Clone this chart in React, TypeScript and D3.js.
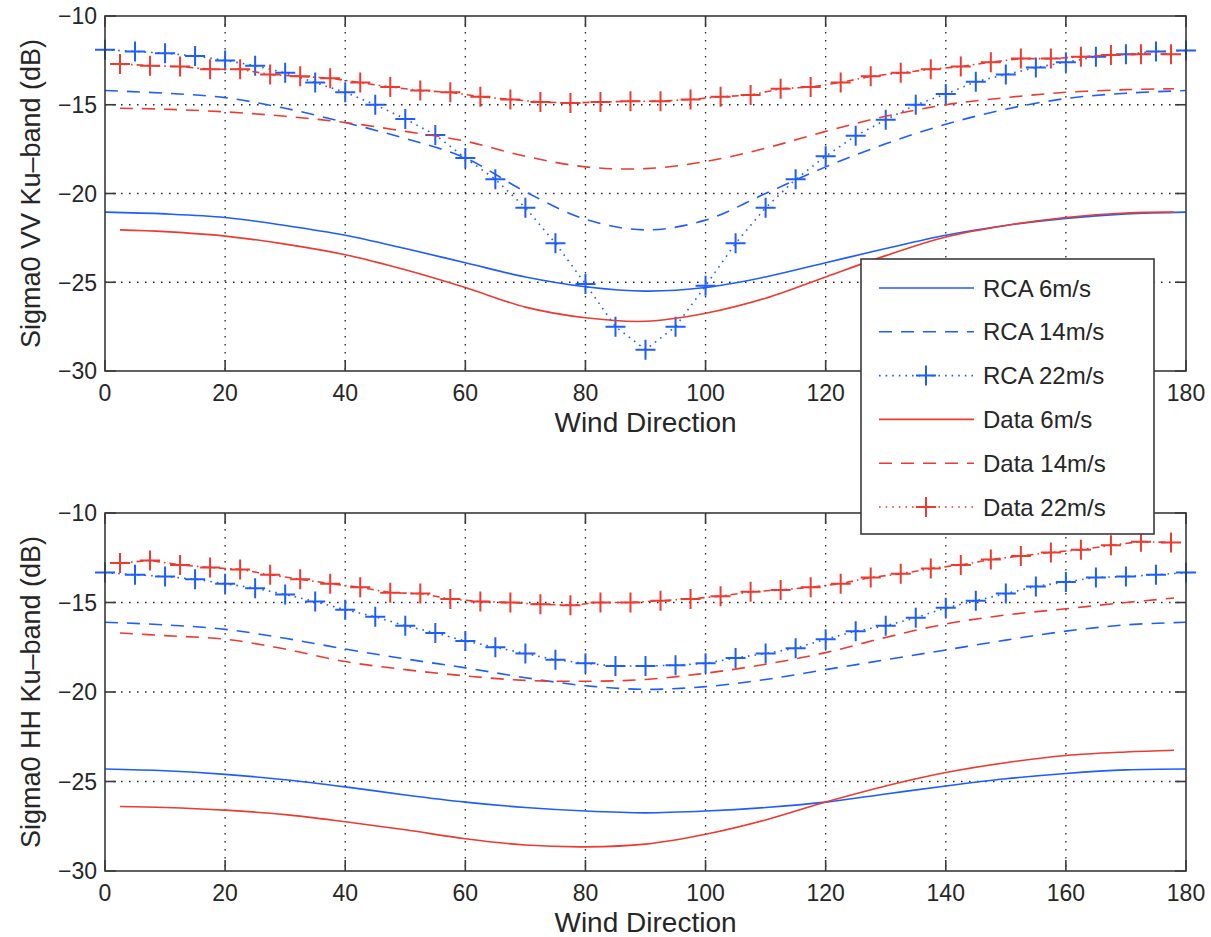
import React from "react";
import * as d3 from "d3";

// x positions (wind direction, deg)
const dirSmooth = [0, 10, 20, 30, 40, 50, 60, 70, 80, 90, 100, 110, 120, 130, 140, 150, 160, 170, 180];
const dirData = [2.5, 10, 20, 30, 40, 50, 60, 70, 80, 90, 100, 110, 120, 130, 140, 150, 160, 170, 178];
const dirRca22 = [0, 5, 10, 15, 20, 25, 30, 35, 40, 45, 50, 55, 60, 65, 70, 75, 80, 85, 90, 95, 100, 105, 110, 115, 120, 125, 130, 135, 140, 145, 150, 155, 160, 165, 170, 175, 180];
const dirData22 = [2.5, 7.5, 12.5, 17.5, 22.5, 27.5, 32.5, 37.5, 42.5, 47.5, 52.5, 57.5, 62.5, 67.5, 72.5, 77.5, 82.5, 87.5, 92.5, 97.5, 102.5, 107.5, 112.5, 117.5, 122.5, 127.5, 132.5, 137.5, 142.5, 147.5, 152.5, 157.5, 162.5, 167.5, 172.5, 177.5];

// VV panel
const vvRca6 = [-21.05, -21.15, -21.35, -21.8, -22.35, -23.1, -23.9, -24.7, -25.25, -25.5, -25.3, -24.7, -23.9, -23.1, -22.35, -21.8, -21.4, -21.15, -21.05];
const vvData6 = [-22.05, -22.15, -22.4, -22.85, -23.45, -24.3, -25.3, -26.4, -27.0, -27.2, -26.75, -25.9, -24.7, -23.5, -22.45, -21.8, -21.35, -21.1, -21.05];
const vvRca14 = [-14.2, -14.35, -14.6, -15.2, -16.0, -16.9, -18.0, -19.9, -21.45, -22.05, -21.5, -20.0, -18.5, -17.2, -16.1, -15.25, -14.65, -14.35, -14.2];
const vvData14 = [-15.2, -15.25, -15.4, -15.65, -16.0, -16.5, -17.05, -17.9, -18.5, -18.6, -18.2, -17.45, -16.5, -15.65, -15.0, -14.6, -14.3, -14.15, -14.1];
const vvRca22 = [-11.9, -12.0, -12.1, -12.25, -12.5, -12.8, -13.2, -13.75, -14.3, -15.0, -15.8, -16.7, -18.0, -19.2, -20.8, -22.8, -25.1, -27.5, -28.8, -27.5, -25.2, -22.8, -20.8, -19.2, -17.9, -16.75, -15.85, -15.0, -14.4, -13.7, -13.3, -12.9, -12.6, -12.3, -12.15, -12.0, -11.95];
const vvData22 = [-12.7, -12.8, -12.85, -13.0, -13.0, -13.3, -13.4, -13.5, -13.75, -14.0, -14.2, -14.3, -14.55, -14.7, -14.85, -14.9, -14.85, -14.8, -14.8, -14.7, -14.55, -14.45, -14.1, -14.0, -13.75, -13.4, -13.2, -13.0, -12.85, -12.6, -12.4, -12.4, -12.3, -12.2, -12.15, -12.15];

// HH panel
const hhRca6 = [-24.3, -24.4, -24.6, -24.9, -25.3, -25.75, -26.15, -26.45, -26.65, -26.75, -26.65, -26.45, -26.15, -25.7, -25.25, -24.85, -24.55, -24.35, -24.3];
const hhData6 = [-26.4, -26.45, -26.6, -26.85, -27.25, -27.7, -28.2, -28.55, -28.65, -28.5, -27.95, -27.15, -26.15, -25.25, -24.5, -23.95, -23.55, -23.35, -23.25];
const hhRca14 = [-16.1, -16.25, -16.5, -17.0, -17.6, -18.15, -18.65, -19.2, -19.65, -19.85, -19.7, -19.3, -18.75, -18.2, -17.65, -17.1, -16.6, -16.25, -16.1];
const hhData14 = [-16.7, -16.85, -17.05, -17.6, -18.3, -18.75, -19.1, -19.35, -19.4, -19.3, -18.95, -18.45, -17.8, -16.95, -16.2, -15.7, -15.35, -15.0, -14.75];
const hhRca22 = [-13.33, -13.45, -13.55, -13.7, -13.95, -14.2, -14.55, -14.95, -15.4, -15.8, -16.3, -16.7, -17.15, -17.5, -17.85, -18.2, -18.4, -18.55, -18.55, -18.5, -18.4, -18.1, -17.85, -17.55, -17.05, -16.6, -16.3, -15.85, -15.3, -14.9, -14.5, -14.1, -13.85, -13.6, -13.55, -13.45, -13.33];
const hhData22 = [-12.8, -12.65, -12.9, -13.05, -13.15, -13.45, -13.7, -13.95, -14.15, -14.45, -14.5, -14.8, -14.95, -15.0, -15.1, -15.15, -15.0, -15.0, -14.9, -14.8, -14.65, -14.4, -14.3, -14.15, -13.95, -13.6, -13.4, -13.1, -12.9, -12.6, -12.4, -12.2, -12.05, -11.8, -11.6, -11.65];

const xTicks = [0, 20, 40, 60, 80, 100, 120, 140, 160, 180];
const yTicks = [-30, -25, -20, -15, -10];
const legendLabels = ["RCA 6m/s", "RCA 14m/s", "RCA 22m/s", "Data 6m/s", "Data 14m/s", "Data 22m/s"];

const BLUE = "#1d5cff";
const RED = "#ec3a30";
const AXIS = "#3a3a3a";
const TEXT = "#262626";
const FONT = "'Liberation Sans', Arial, Helvetica, sans-serif";

const DASH = "13,9";
const DOT = "1.6,5";
const DASHDOT = "7,4,1.6,4";

type Style = { color: string; dash: string | null; marker: boolean; curve: boolean };
const styles: Style[] = [
  { color: BLUE, dash: null, marker: false, curve: true },
  { color: BLUE, dash: DASH, marker: false, curve: true },
  { color: BLUE, dash: DOT, marker: true, curve: false },
  { color: RED, dash: null, marker: false, curve: true },
  { color: RED, dash: DASH, marker: false, curve: true },
  { color: RED, dash: DASHDOT, marker: true, curve: false },
];

const PLUS = "M-10,0H10M0,-10V10";

const left = 105;
const right = 1186;
const fmt = d3.format("d");

// legend box (drawn over the top panel, as in the original figure)
const LG = { x: 861, y: 259, w: 293, h: 275 };

function Panel({
  top,
  bottom,
  yLabel,
  series,
  underLegend,
}: {
  top: number;
  bottom: number;
  yLabel: string;
  series: [number[], number[]][];
  underLegend?: boolean;
}) {
  const x = d3.scaleLinear().domain([0, 180]).range([left, right]);
  const y = d3.scaleLinear().domain([-30, -10]).range([bottom, top]);
  const tl = 11;
  // tick labels that the legend box covers are not drawn
  const hidden = (t: number) => underLegend && x(t) > LG.x + 10 && x(t) < LG.x + LG.w - 10;
  return (
    <g>
      {xTicks.slice(1, -1).map((t) => (
        <line key={"gx" + t} x1={x(t)} x2={x(t)} y1={top} y2={bottom} stroke="#222" strokeWidth={1.3} strokeDasharray="1.5,6.5" />
      ))}
      {yTicks.slice(1, -1).map((t) => (
        <line key={"gy" + t} x1={left} x2={right} y1={y(t)} y2={y(t)} stroke="#222" strokeWidth={1.3} strokeDasharray="1.5,6.5" />
      ))}
      {series.map(([xs, ys], i) => {
        const s = styles[i];
        const pts = xs.map((d, k) => [d, ys[k]] as [number, number]);
        const gen = d3
          .line<[number, number]>()
          .x((d) => x(d[0]))
          .y((d) => y(d[1]))
          .curve(s.curve ? d3.curveCatmullRom : d3.curveLinear);
        return (
          <g key={"s" + i}>
            <path d={gen(pts) || ""} fill="none" stroke={s.color} strokeWidth={1.6} strokeDasharray={s.dash || undefined} />
            {s.marker &&
              pts.map((p, k) => (
                <path key={k} d={PLUS} transform={`translate(${x(p[0])},${y(p[1])})`} stroke={s.color} strokeWidth={2} fill="none" />
              ))}
          </g>
        );
      })}
      <rect x={left} y={top} width={right - left} height={bottom - top} fill="none" stroke={AXIS} strokeWidth={1.6} />
      {xTicks.map((t) => (
        <g key={"tx" + t}>
          <line x1={x(t)} x2={x(t)} y1={bottom} y2={bottom - tl} stroke={AXIS} strokeWidth={1.6} />
          <line x1={x(t)} x2={x(t)} y1={top} y2={top + tl} stroke={AXIS} strokeWidth={1.6} />
          {!hidden(t) && (
            <text x={x(t)} y={bottom + 30} textAnchor="middle" fontSize={23} fill={TEXT} fontFamily={FONT}>
              {fmt(t)}
            </text>
          )}
        </g>
      ))}
      {yTicks.map((t) => (
        <g key={"ty" + t}>
          <line x1={left} x2={left + tl} y1={y(t)} y2={y(t)} stroke={AXIS} strokeWidth={1.6} />
          <line x1={right} x2={right - tl} y1={y(t)} y2={y(t)} stroke={AXIS} strokeWidth={1.6} />
          <text x={left - 8} y={y(t)} dy="0.36em" textAnchor="end" fontSize={23} fill={TEXT} fontFamily={FONT}>
            {fmt(t)}
          </text>
        </g>
      ))}
      <text x={(left + right) / 2} y={bottom + 61} textAnchor="middle" fontSize={28} fill={TEXT} fontFamily={FONT}>
        Wind Direction
      </text>
      <text
        transform={`translate(40,${(top + bottom) / 2}) rotate(-90)`}
        textAnchor="middle"
        fontSize={27}
        fill={TEXT}
        fontFamily={FONT}
      >
        {yLabel}
      </text>
    </g>
  );
}

function Legend() {
  const rows = d3.scaleLinear().domain([0, 5]).range([LG.y + 29, LG.y + 248]);
  return (
    <g>
      <rect x={LG.x} y={LG.y} width={LG.w} height={LG.h} fill="#fff" stroke={AXIS} strokeWidth={1.6} />
      {legendLabels.map((lab, i) => {
        const s = styles[i];
        const cy = rows(i);
        return (
          <g key={lab}>
            <line x1={LG.x + 18} x2={LG.x + 113} y1={cy} y2={cy} stroke={s.color} strokeWidth={1.6} strokeDasharray={s.marker ? DOT : s.dash || undefined} />
            {s.marker && <path d={PLUS} transform={`translate(${LG.x + 65},${cy})`} stroke={s.color} strokeWidth={2} fill="none" />}
            <text x={LG.x + 122} y={cy} dy="0.36em" fontSize={24} fill={TEXT} fontFamily={FONT}>
              {lab}
            </text>
          </g>
        );
      })}
    </g>
  );
}

export default function App() {
  return (
    <svg width={1211} height={937} style={{ position: "absolute", left: 0, top: 0, background: "#fff" }}>
      <rect width={1211} height={937} fill="#fff" />
      <Panel
        top={16}
        bottom={371}
        yLabel="Sigma0 VV Ku–band (dB)"
        underLegend
        series={[
          [dirSmooth, vvRca6],
          [dirSmooth, vvRca14],
          [dirRca22, vvRca22],
          [dirData, vvData6],
          [dirData, vvData14],
          [dirData22, vvData22],
        ]}
      />
      <Panel
        top={513}
        bottom={871}
        yLabel="Sigma0 HH Ku–band (dB)"
        series={[
          [dirSmooth, hhRca6],
          [dirSmooth, hhRca14],
          [dirRca22, hhRca22],
          [dirData, hhData6],
          [dirData, hhData14],
          [dirData22, hhData22],
        ]}
      />
      <Legend />
    </svg>
  );
}
